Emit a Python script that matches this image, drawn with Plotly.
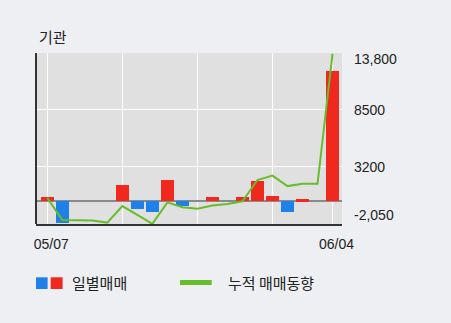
import plotly.graph_objects as go

dates = ["05/07", "05/10", "05/11", "05/12", "05/13", "05/14", "05/17", "05/18",
         "05/20", "05/21", "05/24", "05/25", "05/26", "05/27", "05/28", "05/31",
         "06/01", "06/02", "06/03", "06/04"]
daily = [360, -2070, 0, 0, 0, 1500, -750, -1030, 1970, -490, 0, 360, 0, 360,
         1870, 450, -1030, 170, 0, 12120]
cumulative = [300, -1750, -1780, -1800, -2000, -460, -1280, -2120, -110, -560,
              -710, -400, -270, -20, 1970, 2380, 1400, 1620, 1620, 13740]

y_tick_vals = [13800, 8500, 3200, -2050]
y_tick_text = ["13,800", "8500", "3200", "-2,050"]
y_label_shift = [-6, 0, 0, 8]
x_grid_idx = [0, 5, 10, 15, 19]
x_label_idx = [0, 19]

RED = "#f0281e"
BLUE = "#2080ea"
GREEN = "#67bd2c"
BG = "#eeeff3"
PLOT_BG = "#e0e0e0"
NUM_FONT = "Liberation Sans, Arial, sans-serif"
KR_FONT = "Noto Sans CJK KR, sans-serif"

bar_colors = [RED if v >= 0 else BLUE for v in daily]

fig = go.Figure()
fig.add_trace(go.Bar(x=dates, y=daily, marker=dict(color=bar_colors, line=dict(width=0)),
                     width=0.87, showlegend=False))
fig.add_trace(go.Scatter(x=dates, y=cumulative, mode="lines",
                         line=dict(color=GREEN, width=2), showlegend=False))

tickvals_x = [dates[i] for i in x_grid_idx]
ticktext_x = [dates[i] if i in x_label_idx else "" for i in x_grid_idx]

fig.update_xaxes(type="category", range=[-0.75, 19.63], tickvals=tickvals_x,
                 ticktext=ticktext_x, showgrid=True, gridcolor="white", gridwidth=1,
                 showline=True, linecolor="#333333", linewidth=2, mirror=False,
                 ticks="", tickfont=dict(family=NUM_FONT, size=14, color="#222"),
                 ticklabelstandoff=6, ticklabelshift=4, zeroline=False)
fig.update_yaxes(range=[-2130, 13800], tickvals=y_tick_vals, showticklabels=False,
                 showgrid=True, gridcolor="white", gridwidth=1,
                 zeroline=True, zerolinecolor="#8a8a8a", zerolinewidth=2,
                 showline=False)

annotations = []
for v, t, s in zip(y_tick_vals, y_tick_text, y_label_shift):
    annotations.append(dict(x=1.0327, xref="paper", y=v, yref="y", text=t,
                            showarrow=False, xanchor="left", yanchor="middle",
                            yshift=s, font=dict(family=NUM_FONT, size=14, color="#222")))
annotations.append(dict(x=0.003, xref="paper", y=1.0994, yref="paper", text="기관",
                        showarrow=False, xanchor="left", yanchor="middle",
                        font=dict(family=KR_FONT, size=15, color="#222")))
annotations.append(dict(x=0.111, xref="paper", y=-0.345, yref="paper", text="일별매매",
                        showarrow=False, xanchor="left", yanchor="middle",
                        font=dict(family=KR_FONT, size=15, color="#222")))
annotations.append(dict(x=0.621, xref="paper", y=-0.345, yref="paper", text="누적 매매동향",
                        showarrow=False, xanchor="left", yanchor="middle",
                        font=dict(family=KR_FONT, size=15, color="#222")))

shapes = [
    dict(type="line", xref="paper", yref="paper", x0=0, x1=0, y0=0, y1=1,
         line=dict(color="#333333", width=2)),
    dict(type="rect", xref="paper", yref="paper", x0=0.0, x1=0.038, y0=-0.380, y1=-0.3117,
         fillcolor=BLUE, line=dict(width=0)),
    dict(type="rect", xref="paper", yref="paper", x0=0.048, x1=0.087, y0=-0.380, y1=-0.3117,
         fillcolor=RED, line=dict(width=0)),
    dict(type="line", xref="paper", yref="paper", x0=0.4706, x1=0.5742, y0=-0.342, y1=-0.342,
         line=dict(color=GREEN, width=5)),
]

fig.update_layout(width=451, height=323, margin=dict(l=36, r=109, t=53, b=99),
                  paper_bgcolor=BG, plot_bgcolor=PLOT_BG, bargap=0,
                  annotations=annotations, shapes=shapes, showlegend=False)

fig.write_html("out.html")
